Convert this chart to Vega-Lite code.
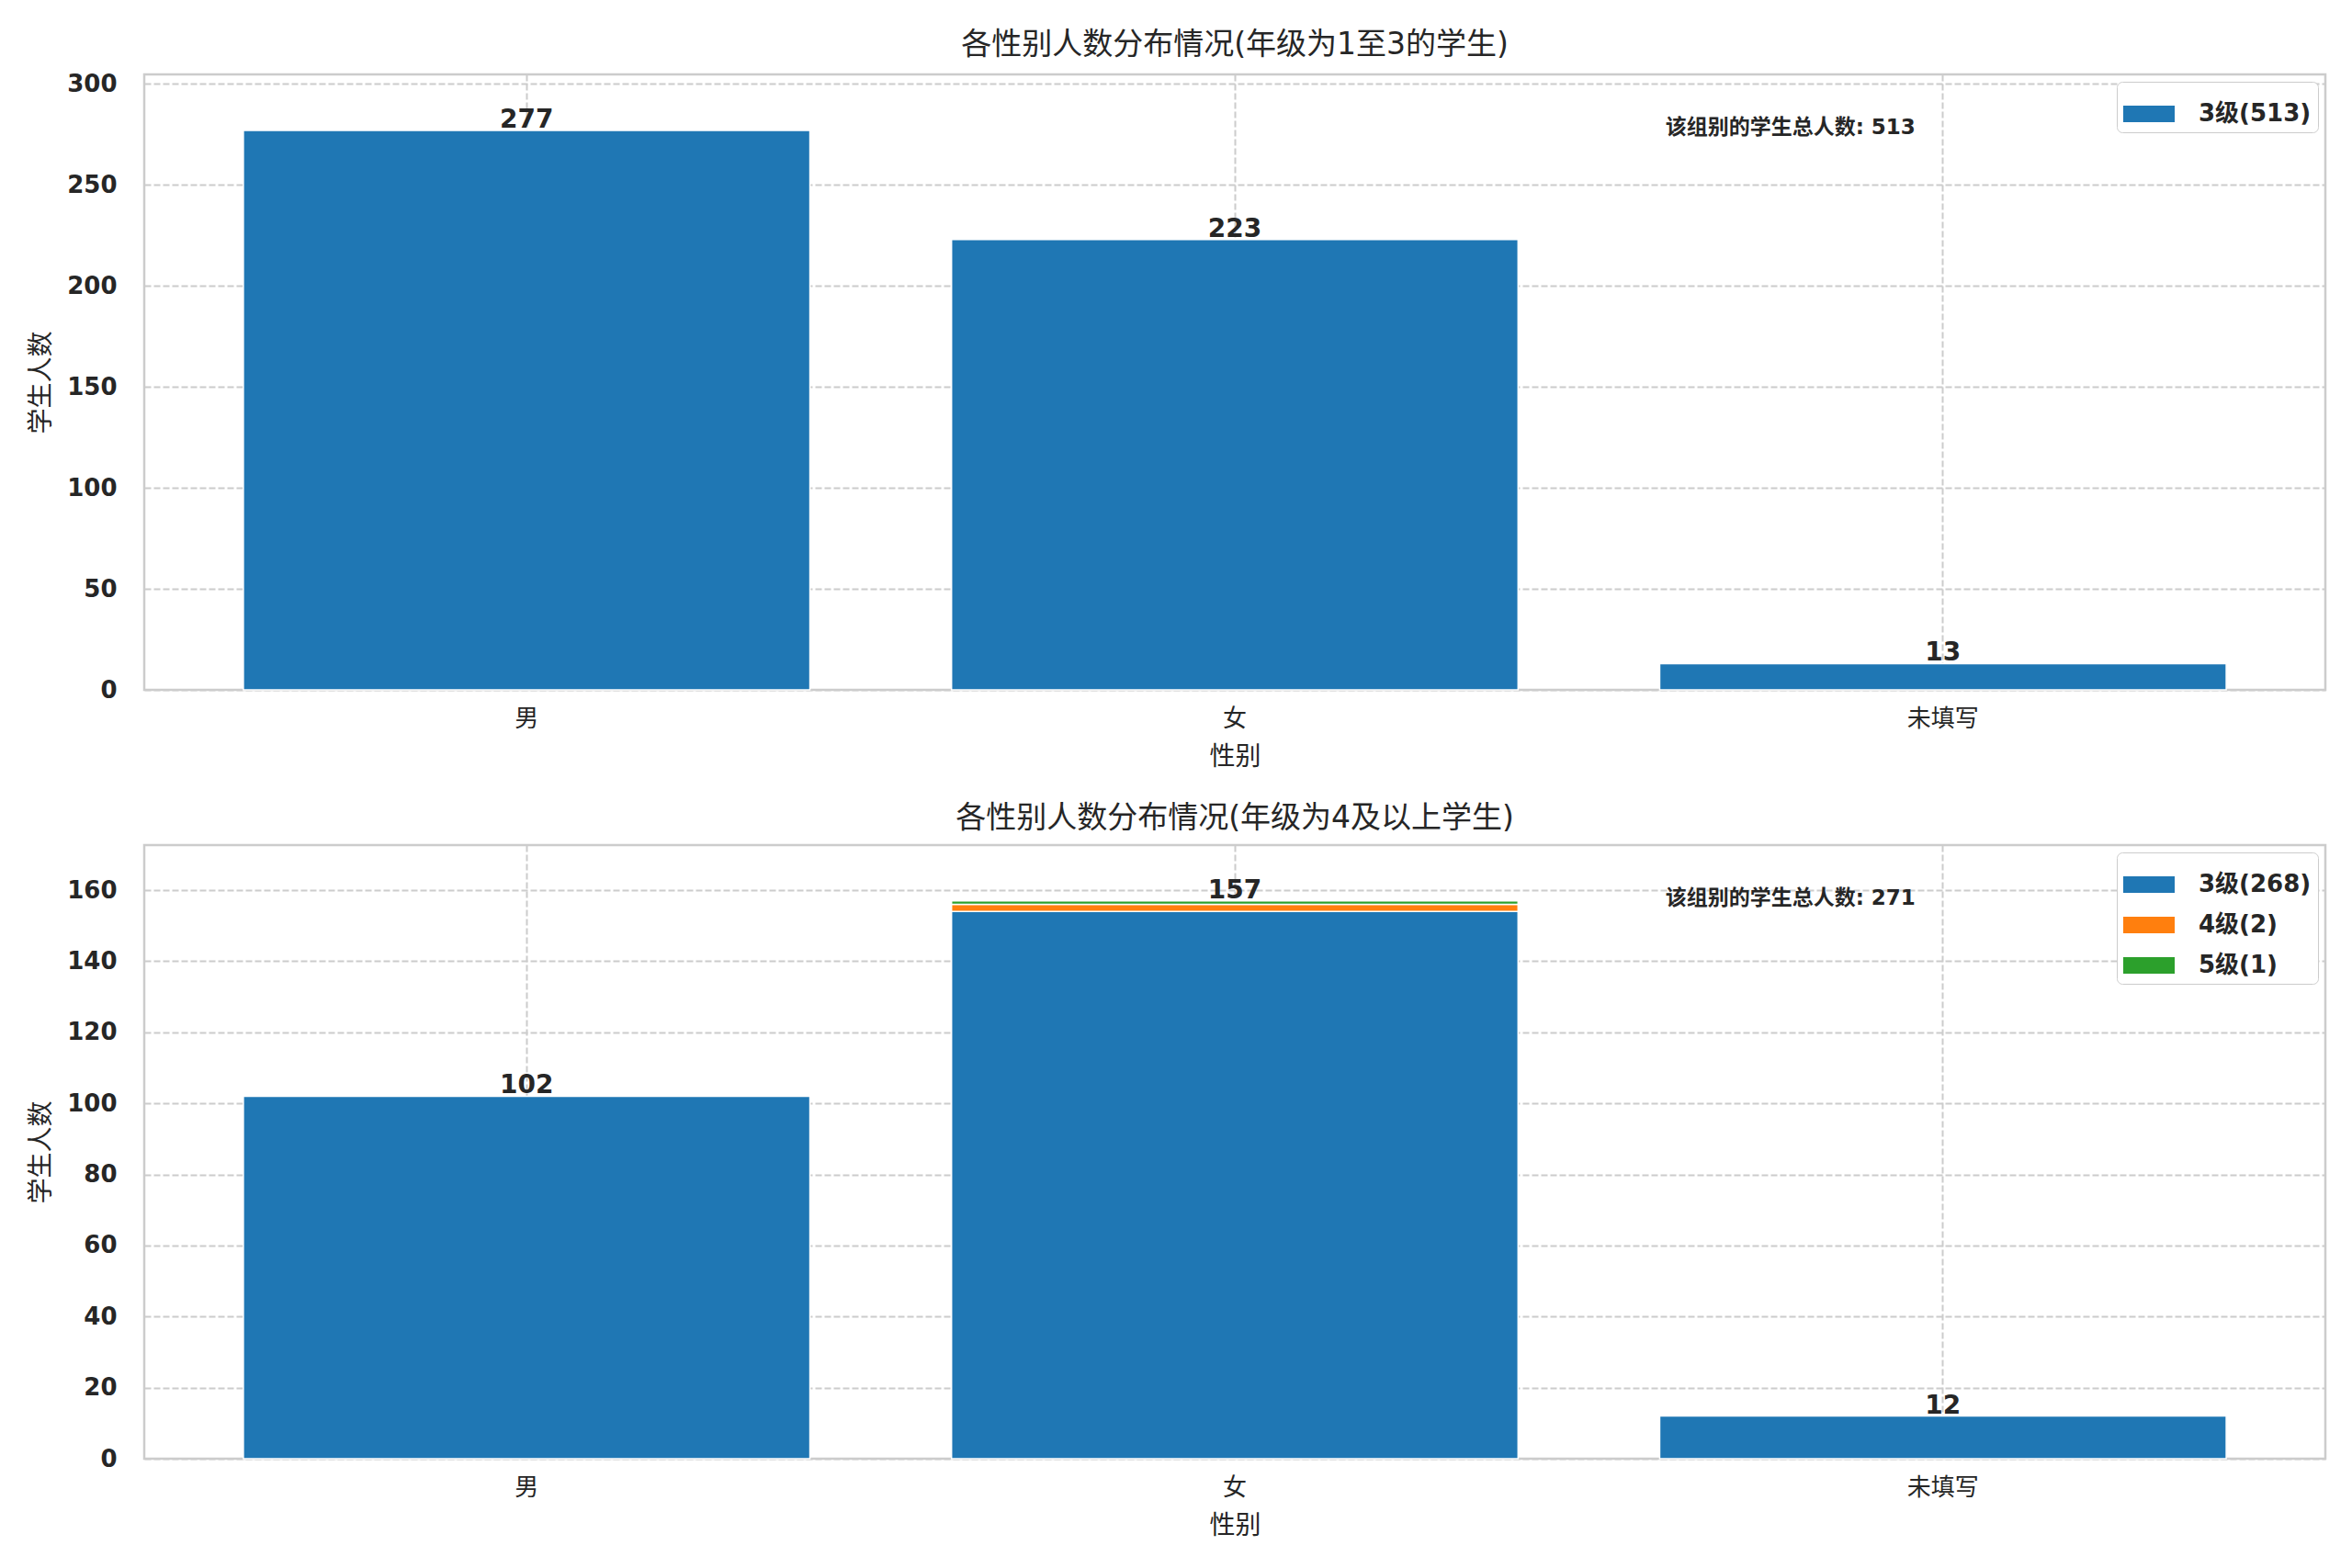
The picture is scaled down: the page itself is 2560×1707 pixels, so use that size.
{
  "$schema": "https://vega.github.io/schema/vega-lite/v6.json",
  "background": "white",
  "padding": {"left": 30, "top": 32, "right": 5, "bottom": 5},
  "bounds": "flush",
  "spacing": 169,
  "config": {
    "font": "DejaVu Sans, Noto Sans CJK SC",
    "view": {"stroke": "#cccccc", "strokeWidth": 2.5},
    "axis": {
      "labelFont": "DejaVu Sans, Noto Sans CJK SC",
      "titleFont": "DejaVu Sans, Noto Sans CJK SC",
      "labelColor": "#262626",
      "titleColor": "#262626",
      "labelFontSize": 26,
      "titleFontSize": 28,
      "titleFontWeight": "normal",
      "gridColor": "#cccccc",
      "gridDash": [7, 3],
      "gridWidth": 2,
      "ticks": false,
      "tickSize": 0,
      "domain": false
    },
    "axisY": {"labelFontWeight": "bold", "labelPadding": 30, "titlePadding": 13},
    "axisX": {"labelAngle": 0, "labelPadding": 18, "titlePadding": 15, "labelFontWeight": "normal"},
    "title": {"fontSize": 33, "fontWeight": "normal", "color": "#262626", "offset": 12, "baseline": "bottom", "font": "DejaVu Sans, Noto Sans CJK SC"},
    "legend": {
      "orient": "top-right",
      "offset": 8,
      "padding": 7,
      "strokeColor": "#cccccc",
      "fillColor": "white",
      "cornerRadius": 6,
      "labelFontSize": 26,
      "labelFontWeight": "bold",
      "labelColor": "#262626",
      "labelFont": "DejaVu Sans, Noto Sans CJK SC",
      "symbolType": "M-1,-0.32H1V0.32H-1Z",
      "symbolSize": 3136,
      "symbolStrokeWidth": 0,
      "symbolOpacity": 1,
      "labelOffset": 26,
      "rowPadding": 3
    }
  },
  "datasets": {
    "top": [
      {"gender": "男", "series": "3级(513)", "count": 277},
      {"gender": "女", "series": "3级(513)", "count": 223},
      {"gender": "未填写", "series": "3级(513)", "count": 13}
    ],
    "bottom": [
      {"gender": "男", "series": "3级(268)", "count": 102},
      {"gender": "女", "series": "3级(268)", "count": 154},
      {"gender": "女", "series": "4级(2)", "count": 2},
      {"gender": "女", "series": "5级(1)", "count": 1},
      {"gender": "未填写", "series": "3级(268)", "count": 12}
    ]
  },
  "vconcat": [
    {
      "width": 2374,
      "height": 670,
      "title": "各性别人数分布情况(年级为1至3的学生)",
      "layer": [
        {
          "data": {"name": "top"},
          "mark": {"type": "bar", "stroke": "white", "strokeWidth": 1.5},
          "encoding": {
            "x": {"field": "gender", "type": "nominal", "sort": ["男", "女", "未填写"],
                  "scale": {"paddingInner": 0.2, "paddingOuter": 0.14},
                  "axis": {"title": "性别", "grid": true, "bandPosition": 0.5}},
            "y": {"field": "count", "type": "quantitative", "stack": "zero",
                  "scale": {"domain": [0, 304.7], "nice": false},
                  "axis": {"title": "学生人数", "values": [0, 50, 100, 150, 200, 250, 300], "grid": true}},
            "color": {"field": "series", "type": "nominal",
                      "scale": {"domain": ["3级(513)"], "range": ["#1f77b4"]},
                      "legend": {"title": null}}
          }
        },
        {
          "data": {"name": "top"},
          "transform": [{"aggregate": [{"op": "sum", "field": "count", "as": "total"}], "groupby": ["gender"]}],
          "mark": {"type": "text", "fontWeight": "bold", "fontSize": 28, "baseline": "bottom", "dy": 3, "color": "#262626"},
          "encoding": {
            "x": {"field": "gender", "type": "nominal", "sort": ["男", "女", "未填写"]},
            "y": {"field": "total", "type": "quantitative"},
            "text": {"field": "total", "type": "quantitative"}
          }
        },
        {
          "data": {"values": [{"note": "该组别的学生总人数: 513"}]},
          "mark": {"type": "text", "fontWeight": "bold", "fontSize": 23, "align": "left", "baseline": "middle", "dy": -3, "color": "#262626"},
          "encoding": {
            "x": {"datum": "未填写", "type": "nominal", "bandPosition": 0.01},
            "y": {"datum": 277, "type": "quantitative"},
            "text": {"field": "note", "type": "nominal"}
          }
        }
      ]
    },
    {
      "width": 2374,
      "height": 668,
      "title": "各性别人数分布情况(年级为4及以上学生)",
      "layer": [
        {
          "data": {"name": "bottom"},
          "mark": {"type": "bar", "stroke": "white", "strokeWidth": 1.5},
          "encoding": {
            "x": {"field": "gender", "type": "nominal", "sort": ["男", "女", "未填写"],
                  "scale": {"paddingInner": 0.2, "paddingOuter": 0.14},
                  "axis": {"title": "性别", "grid": true, "bandPosition": 0.5}},
            "y": {"field": "count", "type": "quantitative", "stack": "zero",
                  "scale": {"domain": [0, 172.7], "nice": false},
                  "axis": {"title": "学生人数", "values": [0, 20, 40, 60, 80, 100, 120, 140, 160], "grid": true}},
            "color": {"field": "series", "type": "nominal",
                      "scale": {"domain": ["3级(268)", "4级(2)", "5级(1)"], "range": ["#1f77b4", "#ff7f0e", "#2ca02c"]},
                      "legend": {"title": null}},
            "order": {"field": "series", "type": "nominal", "sort": "ascending"}
          }
        },
        {
          "data": {"name": "bottom"},
          "transform": [{"aggregate": [{"op": "sum", "field": "count", "as": "total"}], "groupby": ["gender"]}],
          "mark": {"type": "text", "fontWeight": "bold", "fontSize": 28, "baseline": "bottom", "dy": 3, "color": "#262626"},
          "encoding": {
            "x": {"field": "gender", "type": "nominal", "sort": ["男", "女", "未填写"]},
            "y": {"field": "total", "type": "quantitative"},
            "text": {"field": "total", "type": "quantitative"}
          }
        },
        {
          "data": {"values": [{"note": "该组别的学生总人数: 271"}]},
          "mark": {"type": "text", "fontWeight": "bold", "fontSize": 23, "align": "left", "baseline": "middle", "dy": -3, "color": "#262626"},
          "encoding": {
            "x": {"datum": "未填写", "type": "nominal", "bandPosition": 0.01},
            "y": {"datum": 157, "type": "quantitative"},
            "text": {"field": "note", "type": "nominal"}
          }
        }
      ]
    }
  ],
  "resolve": {"scale": {"color": "independent"}}
}
